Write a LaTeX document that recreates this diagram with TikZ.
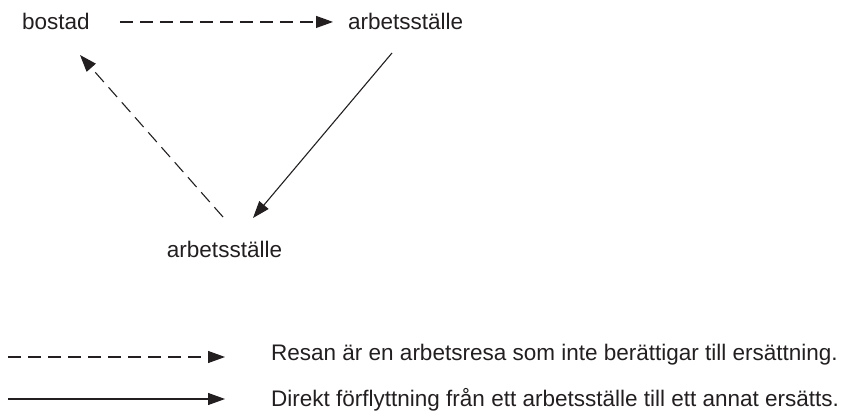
\documentclass[tikz,border=0pt]{standalone}
\usepackage{fontspec}
\setmainfont{Liberation Sans}
\usetikzlibrary{arrows.meta}
\definecolor{ink}{HTML}{231F20}
\tikzset{
  lbl/.style={inner sep=0pt, text=ink, font=\fontsize{22.5}{27}\selectfont},
  conn/.style={draw=ink, line width=1.1pt, -{Triangle[length=17pt,width=12pt]}},
  dashconn/.style={conn, dash pattern=on 13pt off 7pt},
}
\begin{document}
\begin{tikzpicture}[x=1pt,y=-1pt]
  \useasboundingbox (0,0) rectangle (842,411);

  % places
  \node[lbl, anchor=base west] (bostad) at (22,30) {bostad};
  \node[lbl, anchor=base west] (arb1) at (348,30) {arbetsställe};
  \node[lbl, anchor=base] (arb2) at (224.5,258) {arbetsställe};

  % connector end points
  \coordinate (arb2out) at (223,217);
  \coordinate (bostadin) at (80,55);
  \coordinate (arb1out) at (392,53);
  \coordinate (arb2in) at (253,218);

  % trips
  \draw[dashconn, shorten <=30pt, shorten >=15pt] (bostad.east) -- (arb1.west);
  \draw[dashconn] (arb2out) -- (bostadin);
  \draw[conn] (arb1out) -- (arb2in);

  % legend
  \node[lbl, anchor=base west] (legdash) at (271,360) {Resan är en arbetsresa som inte berättigar till ersättning.};
  \node[lbl, anchor=base west] (legsolid) at (271,406) {Direkt förflyttning från ett arbetsställe till ett annat ersätts.};
  \coordinate (legdashstart) at (8,357);
  \coordinate (legsolidstart) at (8,399);
  \draw[dashconn, shorten >=46pt] (legdashstart) -- (legdashstart -| legdash.west);
  \draw[conn, shorten >=46pt] (legsolidstart) -- (legsolidstart -| legsolid.west);
\end{tikzpicture}
\end{document}
